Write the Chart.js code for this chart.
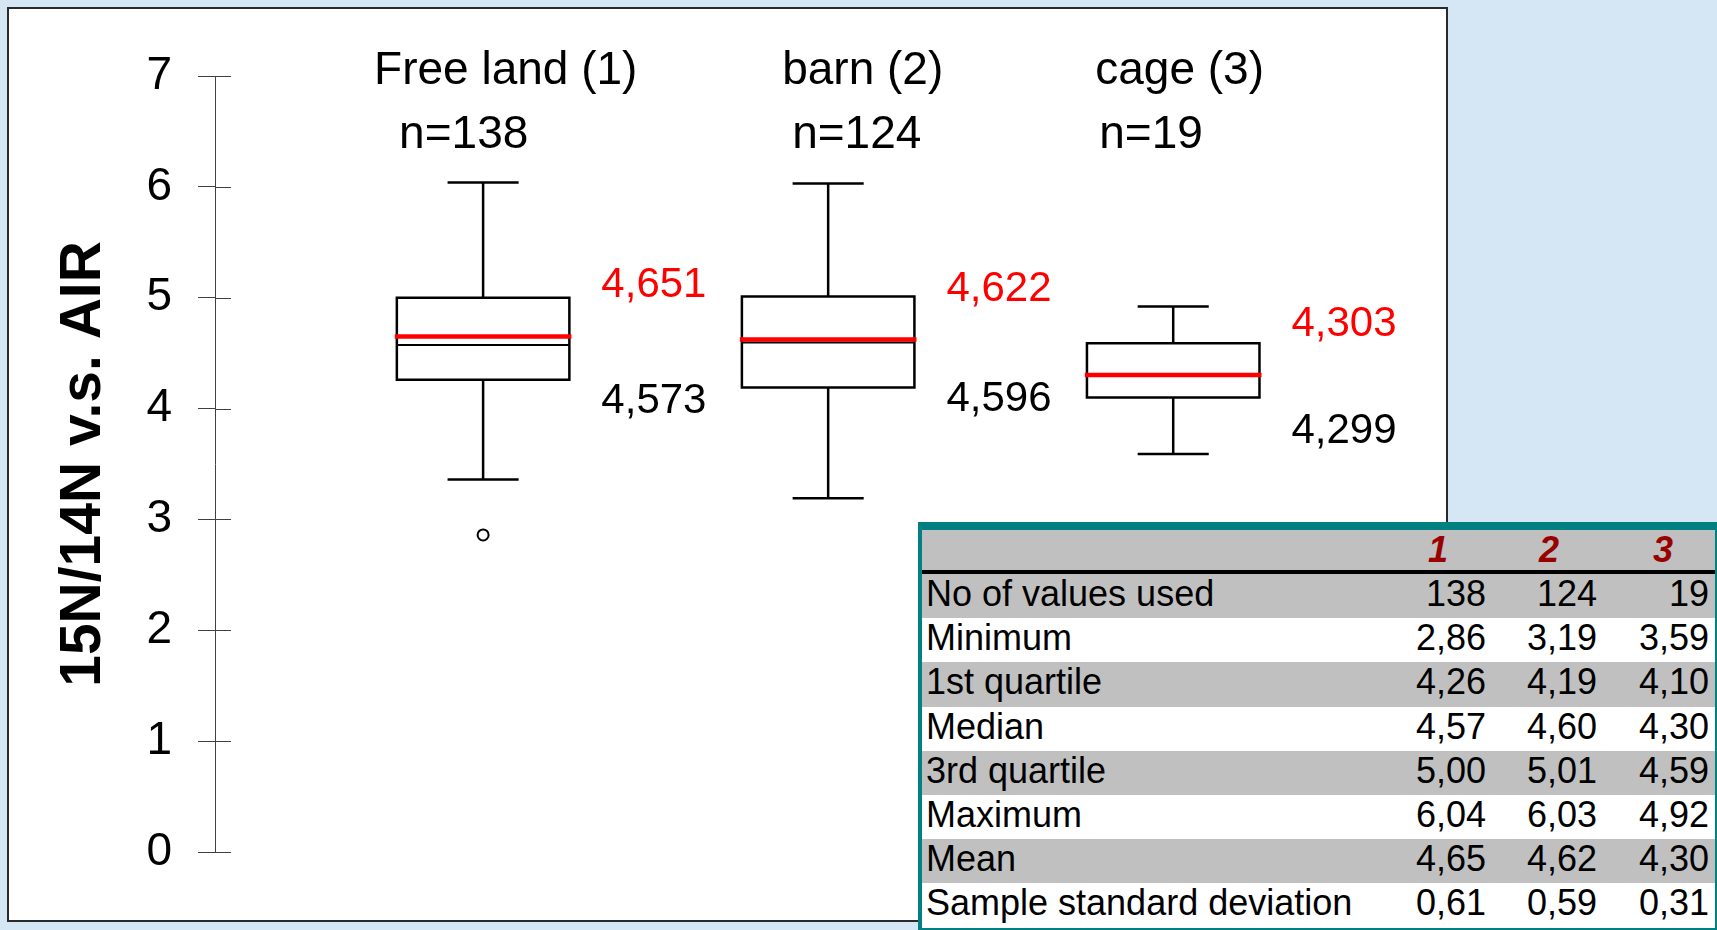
<!DOCTYPE html>
<html>
<head>
<meta charset="utf-8">
<title>15N/14N v.s. AIR</title>
<script src="https://cdn.jsdelivr.net/npm/chart.js@4.4.1/dist/chart.umd.min.js"></script>
<style>
  html, body { margin: 0; padding: 0; }
  body {
    width: 1717px; height: 930px; overflow: hidden; position: relative;
    background: #d5e6f5;
    font-family: "Liberation Sans", Arial, sans-serif;
  }
  #panel {
    position: absolute; left: 7px; top: 7px;
    width: 1437px; height: 911px;
    border: 2px solid #2a2a2a; background: #fff;
  }
  #chart { position: absolute; left: 0; top: 0; }
  #stats {
    position: absolute; left: 918px; top: 522px;
    width: 793px;
    border-style: solid; border-color: #008080;
    border-width: 8px 4px 4px 4px;
    background: #fff; color: #000; font-size: 36px;
  }
  #stats .row { display: flex; height: 44.2px; line-height: 44.2px; white-space: nowrap; }
  #stats .row.shade { background: #c0c0c0; }
  #stats .row span { position: relative; top: -2px; }
  #stats .head {
    display: flex; height: 40px; line-height: 40px; background: #c0c0c0;
    border-bottom: 4px solid #000;
    font-weight: bold; font-style: italic; color: #990000;
  }
  #stats .c0 { width: 464px; box-sizing: border-box; padding-left: 4px; text-align: left; }
  #stats .c1 { width: 100px; text-align: right; box-sizing: border-box; }
  #stats .c2 { width: 111px; text-align: right; box-sizing: border-box; }
  #stats .c3 { width: 118px; text-align: right; box-sizing: border-box; padding-right: 6px; }
  #stats .head .c1, #stats .head .c2 { padding-right: 38px; }
  #stats .head .c3 { padding-right: 42px; }
</style>
</head>
<body>
<div id="panel"></div>
<canvas id="chart" width="1717" height="930" style="width:1717px;height:930px"></canvas>
<div id="stats"></div>

<script>
// Groups and their five-number summaries (decimal comma is used for display)
const groups      = ['Free land (1)', 'barn (2)', 'cage (3)'];
const counts      = [138, 124, 19];
const whiskerLow  = [3.36, 3.19, 3.59];
const q1          = [4.26, 4.19, 4.10];
const medians     = [4.573, 4.596, 4.299];
const q3          = [5.00, 5.01, 4.59];
const whiskerHigh = [6.04, 6.03, 4.92];
const means       = [4.651, 4.622, 4.303];
const outliers    = [[2.86], [], []];
const stdDevs     = [0.61, 0.59, 0.31];
const yTicks      = [0, 1, 2, 3, 4, 5, 6, 7];
const columnHeads = ['1', '2', '3'];

// Half-widths of box, mean bar and whisker caps, in x-axis units
const BOX_HALF  = 0.25;
const MEAN_HALF = 0.256;
const CAP_HALF  = 0.103;

const fmt = (v, d) => v.toFixed(d).replace('.', ',');
const xs = groups.map((_, i) => i + 1);

// Build a polyline list where each piece is separated by a gap point
function pieces(list) {
  const out = [];
  list.forEach(pts => { pts.forEach(p => out.push(p)); out.push({ x: pts[0].x, y: null }); });
  return out;
}

const meanLines = pieces(xs.map((x, i) => [
  { x: x - MEAN_HALF, y: means[i] }, { x: x + MEAN_HALF, y: means[i] }]));
const medianLines = pieces(xs.map((x, i) => [
  { x: x - BOX_HALF, y: medians[i] }, { x: x + BOX_HALF, y: medians[i] }]));
const boxOutlines = pieces(xs.map((x, i) => [
  { x: x - BOX_HALF, y: q1[i] }, { x: x + BOX_HALF, y: q1[i] },
  { x: x + BOX_HALF, y: q3[i] }, { x: x - BOX_HALF, y: q3[i] },
  { x: x - BOX_HALF, y: q1[i] }]));
const whiskerLines = pieces(xs.flatMap((x, i) => [
  [{ x, y: q3[i] }, { x, y: whiskerHigh[i] }],
  [{ x, y: q1[i] }, { x, y: whiskerLow[i] }]]));
const capLines = pieces(xs.flatMap((x, i) => [
  [{ x: x - CAP_HALF, y: whiskerHigh[i] }, { x: x + CAP_HALF, y: whiskerHigh[i] }],
  [{ x: x - CAP_HALF, y: whiskerLow[i] }, { x: x + CAP_HALF, y: whiskerLow[i] }]]));
const outlierPoints = xs.flatMap((x, i) => outliers[i].map(v => ({ x, y: v })));

const lineSet = (data, color, width, extra) => Object.assign({
  data, showLine: true, spanGaps: false, borderColor: color, borderWidth: width,
  pointRadius: 0, pointHoverRadius: 0, tension: 0, fill: false,
  borderCapStyle: 'butt', borderJoinStyle: 'miter'
}, extra || {});

// Labels: group names, counts, mean/median values, and the right half of the y ticks
const annotations = {
  id: 'annotations',
  afterDraw(chart, args, opts) {
    const { ctx, chartArea, scales: { x, y } } = chart;
    ctx.save();
    ctx.strokeStyle = '#404040';
    ctx.lineWidth = 1;
    yTicks.forEach(v => {
      const py = Math.round(y.getPixelForValue(v)) + 0.5;
      ctx.beginPath();
      ctx.moveTo(chartArea.left, py);
      ctx.lineTo(chartArea.left + opts.tickRight, py);
      ctx.stroke();
    });
    ctx.textAlign = 'left';
    ctx.textBaseline = 'alphabetic';
    ctx.fillStyle = '#000';
    ctx.font = '46px "Liberation Sans"';
    groups.forEach((g, i) => {
      const cx = x.getPixelForValue(xs[i]);
      ctx.fillText(g, cx + opts.titleDx[i], opts.titleY);
      ctx.fillText('n=' + counts[i], cx + opts.countDx[i], opts.countY);
    });
    ctx.font = '42px "Liberation Sans"';
    groups.forEach((g, i) => {
      const lx = x.getPixelForValue(xs[i] + BOX_HALF) + opts.valueGap;
      ctx.fillStyle = '#ff0000';
      ctx.fillText(fmt(means[i], 3), lx, y.getPixelForValue(means[i]) - opts.meanRise);
      ctx.fillStyle = '#000';
      ctx.fillText(fmt(medians[i], 3), lx, y.getPixelForValue(medians[i]) + opts.medianDrop);
    });
    ctx.restore();
  }
};

new Chart(document.getElementById('chart'), {
  type: 'scatter',
  data: {
    datasets: [
      lineSet(meanLines, '#ff0000', 4.5),
      lineSet(medianLines, '#000', 2),
      lineSet(boxOutlines, '#000', 2.5, { borderCapStyle: 'square' }),
      lineSet(whiskerLines, '#000', 2.5),
      lineSet(capLines, '#000', 2.5),
      { data: outlierPoints, showLine: false, pointStyle: 'circle', pointRadius: 5.5,
        pointHoverRadius: 5.5, pointBorderWidth: 2, pointBorderColor: '#000',
        pointBackgroundColor: '#fff' }
    ]
  },
  options: {
    responsive: false,
    devicePixelRatio: 1,
    animation: false,
    events: [],
    layout: { padding: { left: 0, top: 76, right: 285, bottom: 78 } },
    scales: {
      x: { type: 'linear', display: false, min: 0.223, max: 3.75 },
      y: {
        type: 'linear', min: 0, max: 7,
        afterBuildTicks: s => { s.ticks = yTicks.map(v => ({ value: v })); },
        afterFit: s => { s.width = 215; },
        ticks: { padding: 26, color: '#000', font: { family: 'Liberation Sans', size: 46 } },
        grid: { display: true, drawOnChartArea: false, drawTicks: true, tickLength: 17,
                color: '#404040', lineWidth: 1 },
        border: { display: true, color: '#404040', width: 1 },
        title: { display: true, text: '15N/14N v.s. AIR', color: '#000',
                 font: { family: 'Liberation Sans', size: 57, weight: 'bold' },
                 padding: { top: 50, bottom: 0 } }
      }
    },
    plugins: {
      legend: { display: false },
      tooltip: { enabled: false },
      annotations: {
        tickRight: 16,
        titleDx: [-109, -46, -78], titleY: 84,
        countDx: [-84, -36, -74], countY: 148,
        valueGap: 32, meanRise: 39, medianDrop: 68
      }
    }
  },
  plugins: [annotations]
});

// Summary statistics table
const minimums = xs.map((_, i) => Math.min(whiskerLow[i], ...outliers[i]));
const statRows = [
  ['No of values used', counts.map(String)],
  ['Minimum', minimums.map(v => fmt(v, 2))],
  ['1st quartile', q1.map(v => fmt(v, 2))],
  ['Median', medians.map(v => fmt(v, 2))],
  ['3rd quartile', q3.map(v => fmt(v, 2))],
  ['Maximum', whiskerHigh.map(v => fmt(v, 2))],
  ['Mean', means.map(v => fmt(v, 2))],
  ['Sample standard deviation', stdDevs.map(v => fmt(v, 2))]
];
const stats = document.getElementById('stats');
let html = '<div class="head"><div class="c0"></div>' +
  columnHeads.map((h, j) => `<div class="c${j + 1}">${h}</div>`).join('') + '</div>';
statRows.forEach(([label, vals], r) => {
  html += `<div class="row${r % 2 === 0 ? ' shade' : ''}"><div class="c0"><span>${label}</span></div>` +
    vals.map((v, j) => `<div class="c${j + 1}"><span>${v}</span></div>`).join('') + '</div>';
});
stats.innerHTML = html;
</script>
</body>
</html>
